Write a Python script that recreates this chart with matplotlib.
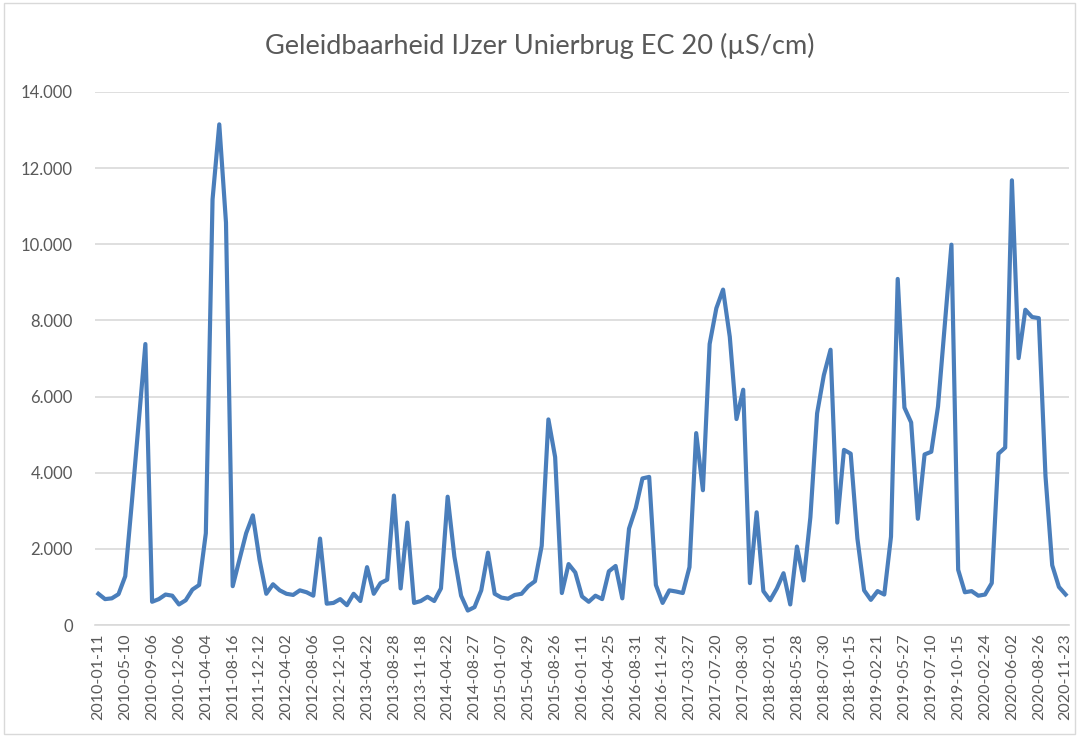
import matplotlib
matplotlib.use("Agg")
import matplotlib.pyplot as plt
from matplotlib.ticker import FuncFormatter, MultipleLocator

# conductivity EC20 (µS/cm), one value per sample
ec_values = [
    820, 680, 700, 810, 1280, 3250, 5300, 7380, 610, 680,
    800, 770, 540, 650, 930, 1050, 2410, 11180, 13150, 10570,
    1020, 1710, 2410, 2880, 1710, 820, 1070, 910, 820, 790,
    910, 860, 770, 2270, 560, 580, 680, 520, 820, 630,
    1520, 820, 1100, 1190, 3400, 960, 2690, 580, 630, 740,
    630, 960, 3370, 1800, 770, 380, 470, 910, 1900, 820,
    720, 690, 790, 820, 1020, 1150, 2080, 5400, 4410, 840,
    1600, 1380, 750, 610, 770, 680, 1410, 1550, 700, 2530,
    3070, 3850, 3890, 1050, 580, 910, 880, 840, 1520, 5040,
    3540, 7380, 8320, 8810, 7570, 5410, 6180, 1100, 2960, 890,
    650, 960, 1360, 540, 2060, 1170, 2830, 5560, 6560, 7230,
    2690, 4600, 4500, 2270, 910, 660, 890, 800, 2320, 9090,
    5710, 5320, 2790, 4480, 4550, 5740, 7850, 9990, 1450, 860,
    890, 770, 800, 1100, 4500, 4660, 11680, 7010, 8280, 8090,
    8060, 3910, 1570, 1000, 800,
]

# every 4th sample gets a date label
tick_labels = [
    "2010-01-11", "2010-05-10", "2010-09-06", "2010-12-06", "2011-04-04",
    "2011-08-16", "2011-12-12", "2012-04-02", "2012-08-06", "2012-12-10",
    "2013-04-22", "2013-08-28", "2013-11-18", "2014-04-22", "2014-08-27",
    "2015-01-07", "2015-04-29", "2015-08-26", "2016-01-11", "2016-04-25",
    "2016-08-31", "2016-11-24", "2017-03-27", "2017-07-20", "2017-08-30",
    "2018-02-01", "2018-05-28", "2018-07-30", "2018-10-15", "2019-02-21",
    "2019-05-27", "2019-07-10", "2019-10-15", "2020-02-24", "2020-06-02",
    "2020-08-26", "2020-11-23",
]
label_step = 4

plt.rcParams["font.family"] = ["Lato", "DejaVu Sans"]
text_gray = "#595959"

fig = plt.figure(figsize=(10.79, 7.36), dpi=100)
ax = fig.add_axes([95 / 1079, (736 - 625) / 736, (1069 - 95) / 1079, (625 - 92) / 736])

x = list(range(len(ec_values)))
ax.plot(x, ec_values, color="#4a7ebb", linewidth=3.0, solid_joinstyle="round")

ax.set_xlim(-0.5, len(ec_values) - 0.5)
ax.set_ylim(0, 14000)
ax.yaxis.set_major_locator(MultipleLocator(2000))
ax.yaxis.set_major_formatter(FuncFormatter(lambda v, p: f"{v:,.0f}".replace(",", ".")))

ax.set_xticks(x[::label_step])
ax.set_xticklabels(tick_labels, rotation=90)

ax.grid(axis="y", color="#d9d9d9", linewidth=1.2)
ax.set_axisbelow(True)
for side in ["top", "right", "left"]:
    ax.spines[side].set_visible(False)
ax.spines["bottom"].set_color("#d9d9d9")
ax.spines["bottom"].set_linewidth(1.2)
ax.tick_params(axis="both", length=0, colors=text_gray)
ax.tick_params(axis="y", pad=16, labelsize=12)
ax.tick_params(axis="x", pad=6, labelsize=11.5)

fig.suptitle("Geleidbaarheid IJzer Unierbrug EC 20 (µS/cm)", y=0.955,
             fontsize=19.5, color=text_gray)

# light frame around the chart area
fig.patches.append(plt.Rectangle((0.004, 0.003), 0.992, 0.993, transform=fig.transFigure,
                                 fill=False, edgecolor="#d9d9d9", linewidth=1.0))

fig.savefig("out.png", dpi=100)
